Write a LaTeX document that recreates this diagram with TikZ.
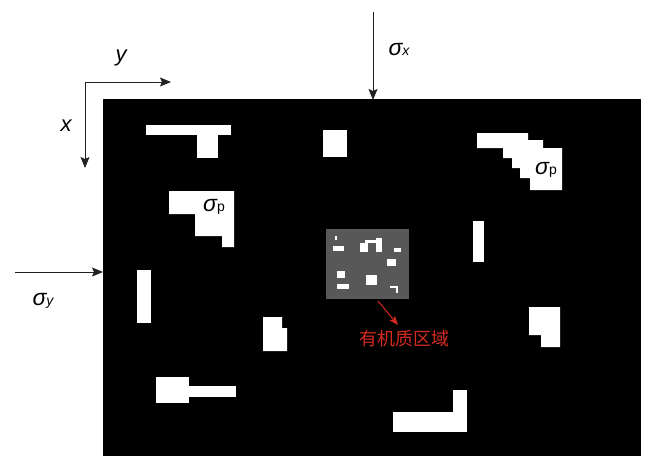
\documentclass[tikz,border=0pt]{standalone}
\usepackage{fontspec}
\setmainfont{Liberation Sans}
\newfontfamily\cjk{Noto Sans CJK SC}
\usetikzlibrary{arrows.meta}
\definecolor{lineC}{HTML}{222222}
\definecolor{grayC}{HTML}{585858}
\definecolor{redC}{HTML}{D42A20}
\tikzset{
  arr/.style={draw=lineC, line width=1pt, -{Stealth[length=11pt,width=9pt,inset=2pt]}},
  redarr/.style={draw=redC, line width=1pt, -{Stealth[length=9pt,width=7pt,inset=2pt]}},
  grain/.style={fill=white, draw=none},
  lbl/.style={inner sep=0pt, font=\fontsize{22}{26}\selectfont\itshape},
  sig/.style={inner sep=0pt, font=\fontsize{23}{27}\selectfont},
}
\newcommand{\sgx}[1]{{\itshape σ}{\fontsize{14}{16}\selectfont #1}}
\begin{document}
\begin{tikzpicture}[x=1pt,y=-1pt]
\useasboundingbox (0,0) rectangle (648,456);
% black sample
\fill[black] (103,99) rectangle (641,456);
% grains
\fill[grain] (146,125) rectangle (231,135);
\fill[grain] (197,134) rectangle (218,158);
\fill[grain] (169,191) -- (234,191) -- (234,247) -- (222,247) -- (222,236) -- (195,236) -- (195,214) -- (169,214) -- cycle;
\fill[grain] (477,133) -- (528,133) -- (528,140) -- (543,140) -- (543,148) -- (562,148) -- (562,190) -- (530,190) -- (530,178) -- (520,178) -- (520,168) -- (512,168) -- (512,158) -- (503,158) -- (503,148) -- (477,148) -- cycle;
\fill[grain] (323,130) rectangle (347,157);
\fill[grain] (137,270) rectangle (151,323);
\fill[grain] (473,221) rectangle (484,262);
\fill[grain] (529,307) -- (560,307) -- (560,347) -- (541,347) -- (541,335) -- (529,335) -- cycle;
\fill[grain] (263,317) -- (282,317) -- (282,328) -- (287,328) -- (287,351) -- (263,351) -- cycle;
\fill[grain] (156,377) rectangle (189,403);
\fill[grain] (188,386) rectangle (236,397);
\fill[grain] (393,412) rectangle (467,432);
\fill[grain] (453,390) rectangle (467,413);
% organic matter region
\fill[grayC] (326,229) rectangle (409,299);
\fill[grain] (335,236) rectangle (337,240);
\fill[grain] (333,246) rectangle (344,251);
\fill[grain] (360,243) rectangle (368,252);
\fill[grain] (365,240) rectangle (382,243);
\fill[grain] (376,238) rectangle (382,252);
\fill[grain] (394,248) rectangle (401,252);
\fill[grain] (387,259) rectangle (396,266);
\fill[grain] (337,271) rectangle (345,278);
\fill[grain] (337,284) rectangle (349,289);
\fill[grain] (366,275) rectangle (377,285);
\fill[grain] (390,286) rectangle (398,288);
\fill[grain] (396,286) rectangle (398,293);
% axes
\coordinate (O) at (85,82);
\coordinate (Y) at (171,82);
\coordinate (X) at (85,168);
\draw[arr] (O) -- (Y);
\draw[arr] (O) -- (X);
\node[lbl] (ylbl) at (121,58) {y};
\node[lbl] (xlbl) at (66,126) {x};
% loads
\coordinate (sxs) at (373,12);
\coordinate (sxe) at (373,100);
\draw[arr] (sxs) -- (sxe);
\node[sig] (sx) at (399,50) {\sgx{\itshape x}};
\coordinate (sys) at (15,272);
\coordinate (sye) at (103,272);
\draw[arr] (sys) -- (sye);
\node[sig] (sy) at (43,301) {\sgx{\itshape y}};
\node[sig] (sp1) at (214,207) {\sgx{p}};
\node[sig] (sp2) at (546,170) {\sgx{p}};
% label
\coordinate (ra) at (378,301);
\coordinate (rb) at (398,325);
\draw[redarr] (ra) -- (rb);
\node[inner sep=0pt, text=redC, font=\cjk\fontsize{18}{21}\selectfont] (om) at (404,339) {有机质区域};
\end{tikzpicture}
\end{document}
